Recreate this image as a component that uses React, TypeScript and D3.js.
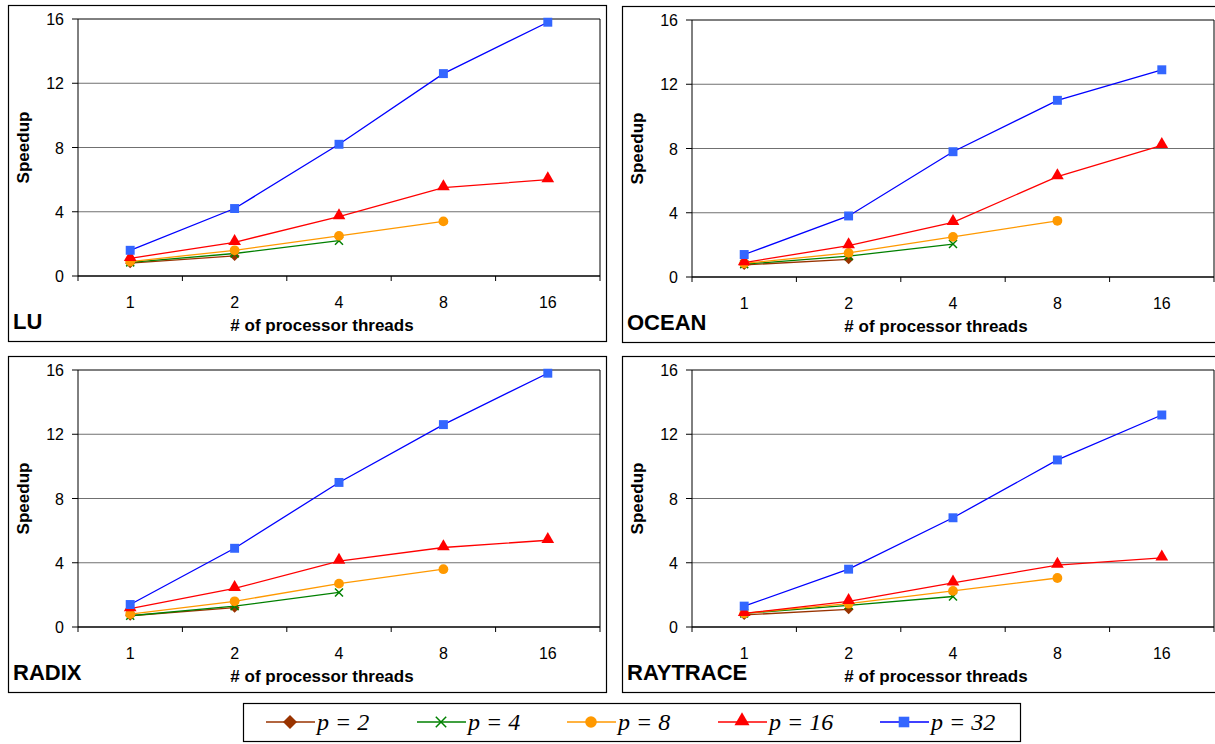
import React from 'react'
import * as d3 from 'd3'

const threads = ['1', '2', '4', '8', '16']
const seriesNames = ['p = 2', 'p = 4', 'p = 8', 'p = 16', 'p = 32']
const lineColors = ['#993300', '#008000', '#ff9900', '#ff0000', '#0000ff']
const markerColors = ['#993300', '#008000', '#ff9900', '#ff0000', '#3366ff']
const markerKinds = ['diamond', 'x', 'circle', 'triangle', 'square']
const yTicks = [0, 4, 8, 12, 16]

const panelNames = ['LU', 'OCEAN', 'RADIX', 'RAYTRACE']

// speedup per series, one value per thread count (shorter series stop early)
const luValues = [
  [0.8, 1.25],
  [0.85, 1.4, 2.2],
  [0.9, 1.6, 2.5, 3.4],
  [1.1, 2.1, 3.7, 5.5, 6.0],
  [1.6, 4.2, 8.2, 12.6, 15.8]
]
const oceanValues = [
  [0.75, 1.1],
  [0.8, 1.3, 2.05],
  [0.85, 1.5, 2.5, 3.5],
  [0.9, 1.95, 3.4, 6.25, 8.2],
  [1.4, 3.8, 7.8, 11.0, 12.9]
]
const radixValues = [
  [0.7, 1.2],
  [0.7, 1.3, 2.15],
  [0.8, 1.6, 2.7, 3.6],
  [1.15, 2.4, 4.1, 4.95, 5.4],
  [1.4, 4.9, 9.0, 12.6, 15.8]
]
const raytraceValues = [
  [0.75, 1.1],
  [0.85, 1.35, 1.9],
  [0.85, 1.45, 2.25, 3.05],
  [0.85, 1.6, 2.75, 3.85, 4.3],
  [1.3, 3.6, 6.8, 10.4, 13.2]
]
const panelValues = [luValues, oceanValues, radixValues, raytraceValues]

const panelW = 598
const panelH = 336
const panelPos = [[8, 5], [622, 6], [8, 356], [622, 356]]
const sans = '"Liberation Sans", Arial, sans-serif'

function Marker({ kind, x, y, color, big }: { kind: string; x: number; y: number; color: string; big?: boolean }) {
  const k = big ? 1.4 : 1
  if (kind === 'x') {
    const s = 4 * (big ? 1.3 : 1)
    return (
      <path d={`M${x - s},${y - s}L${x + s},${y + s}M${x - s},${y + s}L${x + s},${y - s}`}
        stroke={color} strokeWidth={1.5} fill="none" />
    )
  }
  if (kind === 'diamond') {
    const s = big ? 7 : 5
    return <path d={`M${x},${y - s}L${x + s},${y}L${x},${y + s}L${x - s},${y}Z`} fill={color} />
  }
  const sym = kind === 'circle' ? d3.symbolCircle : kind === 'triangle' ? d3.symbolTriangle : d3.symbolSquare
  const size = (kind === 'circle' ? 75 : kind === 'triangle' ? 70 : 80) * k
  const dy = kind === 'triangle' ? -1 : 0
  return <path d={d3.symbol(sym, size)() || ''} transform={`translate(${x},${y + dy})`} fill={color} />
}

function Panel({ idx }: { idx: number }) {
  const [px, py] = panelPos[idx]
  const left = 70, right = panelW - 6, top = 14, bottom = 271
  const x = d3.scaleBand().domain(threads).range([left, right])
  const y = d3.scaleLinear().domain([0, 16]).range([bottom, top])
  const line = d3.line<number>()
    .x((_, i) => (x(threads[i]) || 0) + x.bandwidth() / 2)
    .y(d => y(d))
  const values = panelValues[idx]
  return (
    <g transform={`translate(${px},${py})`}>
      <rect x={0.5} y={0.5} width={panelW} height={panelH} fill="#fff" stroke="#000" strokeWidth={1.2} />
      {yTicks.filter(t => t > 0 && t < 16).map(t => (
        <line key={t} x1={left} x2={right} y1={y(t)} y2={y(t)} stroke="#707070" strokeWidth={1.2} />
      ))}
      <line x1={left} x2={right} y1={top} y2={top} stroke="#000" strokeWidth={1} />
      <line x1={right} x2={right} y1={top} y2={bottom} stroke="#000" strokeWidth={1} />
      <line x1={left} x2={left} y1={top} y2={bottom} stroke="#000" strokeWidth={1} />
      <line x1={left} x2={right} y1={bottom} y2={bottom} stroke="#000" strokeWidth={1.5} />
      {yTicks.map(t => (
        <g key={t}>
          <line x1={left - 6} x2={left} y1={y(t)} y2={y(t)} stroke="#000" />
          <text x={left - 14} y={y(t) + 6} textAnchor="end" fontFamily={sans} fontSize={16} fill="#000">{t}</text>
        </g>
      ))}
      {threads.map(t => (
        <g key={t}>
          <line x1={x(t)} x2={x(t)} y1={bottom} y2={bottom + 5} stroke="#000" />
          <text x={(x(t) || 0) + x.bandwidth() / 2} y={bottom + 32} textAnchor="middle"
            fontFamily={sans} fontSize={16} fill="#000">{t}</text>
        </g>
      ))}
      <line x1={right} x2={right} y1={bottom} y2={bottom + 5} stroke="#000" />
      <text transform={`translate(${21},${(top + bottom) / 2}) rotate(-90)`} textAnchor="middle"
        fontFamily={sans} fontSize={17} fontWeight="bold" fill="#000">Speedup</text>
      <text x={(left + right) / 2 - 17} y={bottom + 55} textAnchor="middle" fontFamily={sans}
        fontSize={17} fontWeight="bold" fill="#000"># of processor threads</text>
      <text x={5} y={panelH - 12} fontFamily={sans} fontSize={22} fontWeight="bold" fill="#000">{panelNames[idx]}</text>
      {values.map((vals, s) => (
        <g key={s}>
          <path d={line(vals) || ''} fill="none" stroke={lineColors[s]} strokeWidth={1.3} />
          {vals.map((v, i) => (
            <Marker key={i} kind={markerKinds[s]} x={(x(threads[i]) || 0) + x.bandwidth() / 2} y={y(v)} color={markerColors[s]} />
          ))}
        </g>
      ))}
    </g>
  )
}

function Legend() {
  const starts = [266, 417, 567, 718, 880]
  return (
    <g>
      <rect x={243.5} y={703.5} width={777} height={38} fill="#fff" stroke="#000" strokeWidth={1.2} />
      {seriesNames.map((name, s) => (
        <g key={name}>
          <line x1={starts[s]} x2={starts[s] + 49} y1={722} y2={722} stroke={lineColors[s]} strokeWidth={1.5} />
          <Marker kind={markerKinds[s]} x={starts[s] + 24} y={722} color={markerColors[s]} big />
          <text x={starts[s] + 51} y={730} fontFamily='"Liberation Serif", "Times New Roman", serif'
            fontStyle="italic" fontSize={24} fill="#000">{name}</text>
        </g>
      ))}
    </g>
  )
}

export default function App() {
  return (
    <svg width={1215} height={744} style={{ position: 'absolute', left: 0, top: 0 }}>
      <rect width={1215} height={744} fill="#fff" />
      {panelNames.map((_, i) => <Panel key={i} idx={i} />)}
      <Legend />
    </svg>
  )
}
